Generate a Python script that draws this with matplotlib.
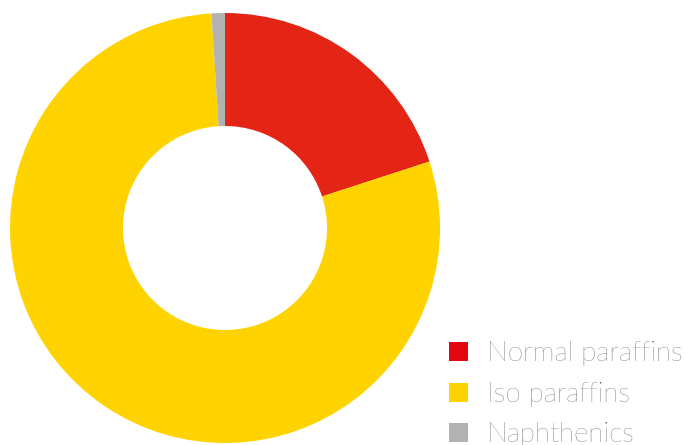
import matplotlib.pyplot as plt

# Composition data
labels = ['Normal paraffins', 'Iso paraffins', 'Naphthenics']
shares = [20, 79, 1]
colors = ['#E42516', '#FFD300', '#B2B2B2']

fig = plt.figure(figsize=(6.84, 4.45), dpi=100)
ax = fig.add_axes([0, 0, 1, 1])

wedges, _ = ax.pie(shares, colors=colors, startangle=90, counterclock=False,
                   center=(225, 217), radius=215,
                   wedgeprops=dict(width=113, linewidth=0))

ax.set_xlim(0, 684)
ax.set_ylim(0, 445)
ax.set_aspect('equal')
ax.axis('off')

leg = ax.legend(wedges, labels, loc='upper left', bbox_to_anchor=(0.64, 0.258),
                frameon=False, fontsize=20, handlelength=0.68, handleheight=0.68,
                handletextpad=0.7, labelspacing=0.56, borderaxespad=0)
for t in leg.get_texts():
    t.set_color('#3c3c3c')
    t.set_fontfamily('Lato')
    t.set_fontweight('light')
leg.legend_handles[0].set_facecolor('#E30613')

fig.savefig('out.png', dpi=100)
